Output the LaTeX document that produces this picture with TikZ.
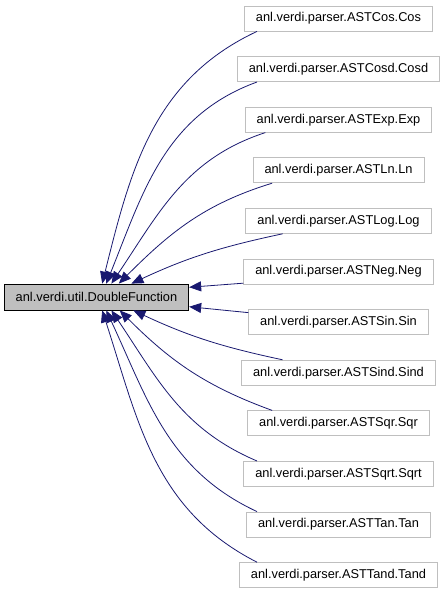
\documentclass[tikz,border=0pt]{standalone}
\usepackage{fontspec}
\setmainfont{Liberation Sans}
\usetikzlibrary{arrows.meta, positioning}
\definecolor{dfEdge}{RGB}{25, 25, 112}
\definecolor{dfGray}{RGB}{191, 191, 191}

\begin{document}
\begin{tikzpicture}[x=1pt, y=1pt,
  node distance=24.8pt,
  base/.style={rectangle, draw=black, fill=dfGray, minimum height=26pt,
               inner xsep=11.5pt, font=\fontsize{12.8}{15}\selectfont,
               line width=0.8pt},
  sub/.style={rectangle, draw=dfGray, fill=white, minimum height=25pt,
              inner xsep=11.5pt, font=\fontsize{12.8}{15}\selectfont,
              line width=0.8pt},
  arrow/.style={-{Triangle[length=12pt, width=10pt]}, color=dfEdge,
                line width=0.8pt},
]
  \useasboundingbox (0,0) rectangle (445,-595);

  \node[base] (base) at (96.5,-297) {anl.verdi.util.DoubleFunction};

  \node[sub] (cos) at (338.5,-18.5) {anl.verdi.parser.ASTCos.Cos};
  \node[sub, below=of cos] (cosd) {anl.verdi.parser.ASTCosd.Cosd};
  \node[sub, below=of cosd] (exp) {anl.verdi.parser.ASTExp.Exp};
  \node[sub, below=of exp] (ln) {anl.verdi.parser.ASTLn.Ln};
  \node[sub, below=of ln] (log) {anl.verdi.parser.ASTLog.Log};
  \node[sub, below=of log] (neg) {anl.verdi.parser.ASTNeg.Neg};
  \node[sub, below=of neg] (sin) {anl.verdi.parser.ASTSin.Sin};
  \node[sub, below=of sin] (sind) {anl.verdi.parser.ASTSind.Sind};
  \node[sub, below=of sind] (sqr) {anl.verdi.parser.ASTSqr.Sqr};
  \node[sub, below=of sqr] (sqrt) {anl.verdi.parser.ASTSqrt.Sqrt};
  \node[sub, below=of sqrt] (tan) {anl.verdi.parser.ASTTan.Tan};
  \node[sub, below=of tan] (tand) {anl.verdi.parser.ASTTand.Tand};

  % inheritance edges, tips at the base class
  \draw[arrow] (cos.189) to[out=205, in=76] (base.67);
  \draw[arrow] (cosd.189) to[out=200, in=68] (base.54);
  \draw[arrow] (exp.190) to[out=198, in=56] (base.42);
  \draw[arrow] (ln.191) to[out=197, in=45] (base.31);
  \draw[arrow] (log.193) to[out=192, in=25] (base.21);
  \draw[arrow] (neg.187) -- (base.6);
  \draw[arrow] (sin.174) -- (base.-6);
  \draw[arrow] (sind.167) to[out=168, in=-25] (base.-20);
  \draw[arrow] (sqr.169) to[out=160, in=-45] (base.-30);
  \draw[arrow] (sqrt.171) to[out=157, in=-56] (base.-42);
  \draw[arrow] (tan.171) to[out=155, in=-65] (base.-54);
  \draw[arrow] (tand.171) to[out=153, in=-72] (base.-67);
\end{tikzpicture}
\end{document}
